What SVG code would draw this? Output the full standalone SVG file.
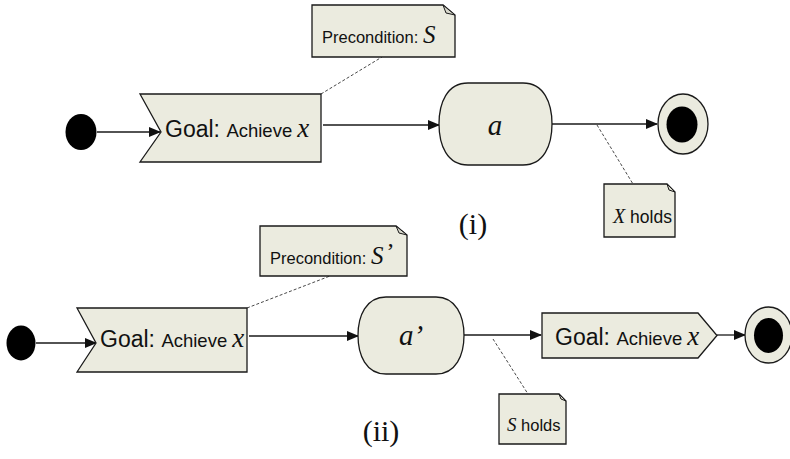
<svg xmlns="http://www.w3.org/2000/svg" width="790" height="459" viewBox="0 0 790 459">
<style>
.shape{fill:#EBEBDF;stroke:#1a1a1a;stroke-width:1.3}
.conn{fill:none;stroke:#1a1a1a;stroke-width:1.3}
.dash{fill:none;stroke:#333;stroke-width:0.9;stroke-dasharray:3,2}
.sans{font-family:"Liberation Sans",Arial,sans-serif;fill:#111}
.serif{font-family:"Liberation Serif","Times New Roman",serif;fill:#111}
.it{font-style:italic}
.fold{fill:#d8d8cc;stroke:#1a1a1a;stroke-width:1}
</style>
<defs>
<marker id="arr" markerWidth="12" markerHeight="10" refX="11" refY="5" orient="auto" markerUnits="userSpaceOnUse">
<path d="M0,0 L12,5 L0,10 Z" fill="#111"/>
</marker>
</defs>

<g id="connectors">
<line class="conn" x1="97" y1="132" x2="160" y2="132" marker-end="url(#arr)"/>
<line class="conn" x1="323" y1="125" x2="439" y2="125" marker-end="url(#arr)"/>
<line class="conn" x1="552" y1="124" x2="657" y2="124" marker-end="url(#arr)"/>
<line class="dash" x1="321" y1="94" x2="382" y2="57"/>
<line class="dash" x1="597" y1="125" x2="633" y2="184"/>
<line class="conn" x1="36" y1="343" x2="96" y2="343" marker-end="url(#arr)"/>
<line class="conn" x1="249" y1="336" x2="358" y2="336" marker-end="url(#arr)"/>
<line class="conn" x1="464" y1="335" x2="541" y2="335" marker-end="url(#arr)"/>
<line class="conn" x1="717" y1="335" x2="745" y2="335" marker-end="url(#arr)"/>
<line class="dash" x1="247" y1="308" x2="330" y2="276"/>
<line class="dash" x1="493" y1="339" x2="528" y2="394"/>
</g>

<g id="start1"><ellipse cx="81" cy="132" rx="15.5" ry="18" fill="#000"/></g>

<g id="goal1">
<path class="shape" d="M140,94 L321,94 L321,162 L140,162 L161,132 Z"/>
<text x="165" y="137" class="sans"><tspan font-size="23">Goal: </tspan><tspan font-size="18.5">Achieve </tspan><tspan class="serif it" font-size="27">x</tspan></text>
</g>

<g id="pre1">
<path class="shape" d="M312,5 L443,5 L455,15 L455,57 L312,57 Z"/>
<path class="fold" d="M443,5 L446,13 L455,15 Z"/>
<text x="322" y="43" class="sans" font-size="16.5">Precondition: <tspan class="serif it" font-size="25">S</tspan></text>
</g>

<g id="action1">
<path class="shape" d="M468,83 L523,83 C544,83 552,103 552,124 C552,145 544,165 523,165 L468,165 C447,165 439,145 439,124 C439,103 447,83 468,83 Z"/>
<text x="495" y="135" class="serif it" font-size="29" text-anchor="middle">a</text>
</g>

<g id="end1">
<ellipse cx="683" cy="124" rx="25" ry="30" class="shape"/>
<ellipse cx="682" cy="124.5" rx="15.5" ry="18" fill="#000"/>
</g>

<g id="note1">
<path class="shape" d="M604,184 L667,184 L675,192 L675,237 L604,237 Z"/>
<path class="fold" d="M667,184 L669,190 L675,192 Z"/>
<text x="613" y="223" class="sans" font-size="17.5"><tspan class="serif it" font-size="20">X</tspan> holds</text>
</g>

<g id="label1"><text x="473" y="234" class="serif" font-size="30" text-anchor="middle">(i)</text></g>

<g id="start2"><ellipse cx="21" cy="343" rx="14.5" ry="17.5" fill="#000"/></g>

<g id="goal2">
<path class="shape" d="M77,308 L247,308 L247,372 L77,372 L96,343 Z"/>
<text x="100" y="347" class="sans"><tspan font-size="23">Goal: </tspan><tspan font-size="18.5">Achieve </tspan><tspan class="serif it" font-size="27">x</tspan></text>
</g>

<g id="pre2">
<path class="shape" d="M260,226 L396,226 L407,235 L407,276 L260,276 Z"/>
<path class="fold" d="M396,226 L399,233 L407,235 Z"/>
<text x="270" y="264" class="sans" font-size="16.5">Precondition: <tspan class="serif it" font-size="25">S</tspan><tspan class="serif" font-size="24" dx="3" dy="-5">’</tspan></text>
</g>

<g id="action2">
<path class="shape" d="M386,297 L436,297 C456,297 464,316 464,335.5 C464,355 456,374 436,374 L386,374 C366,374 358,355 358,335.5 C358,316 366,297 386,297 Z"/>
<text x="399" y="345" class="serif it" font-size="29">a’</text>
</g>

<g id="goal3">
<path class="shape" d="M542,313 L698,313 L717,335.5 L698,358 L542,358 Z"/>
<text x="555" y="345" class="sans"><tspan font-size="23">Goal: </tspan><tspan font-size="18.5">Achieve </tspan><tspan class="serif it" font-size="27">x</tspan></text>
</g>

<g id="end2">
<ellipse cx="768.5" cy="335" rx="23.5" ry="28" class="shape"/>
<ellipse cx="768.5" cy="335.5" rx="14.5" ry="17.5" fill="#000"/>
</g>

<g id="note2">
<path class="shape" d="M499,394 L559,394 L566,401 L566,444 L499,444 Z"/>
<path class="fold" d="M559,394 L561,399 L566,401 Z"/>
<text x="507" y="431" class="sans" font-size="16.5"><tspan class="serif it" font-size="19">S</tspan> holds</text>
</g>

<g id="label2"><text x="381" y="441" class="serif" font-size="30" text-anchor="middle">(ii)</text></g>
</svg>
